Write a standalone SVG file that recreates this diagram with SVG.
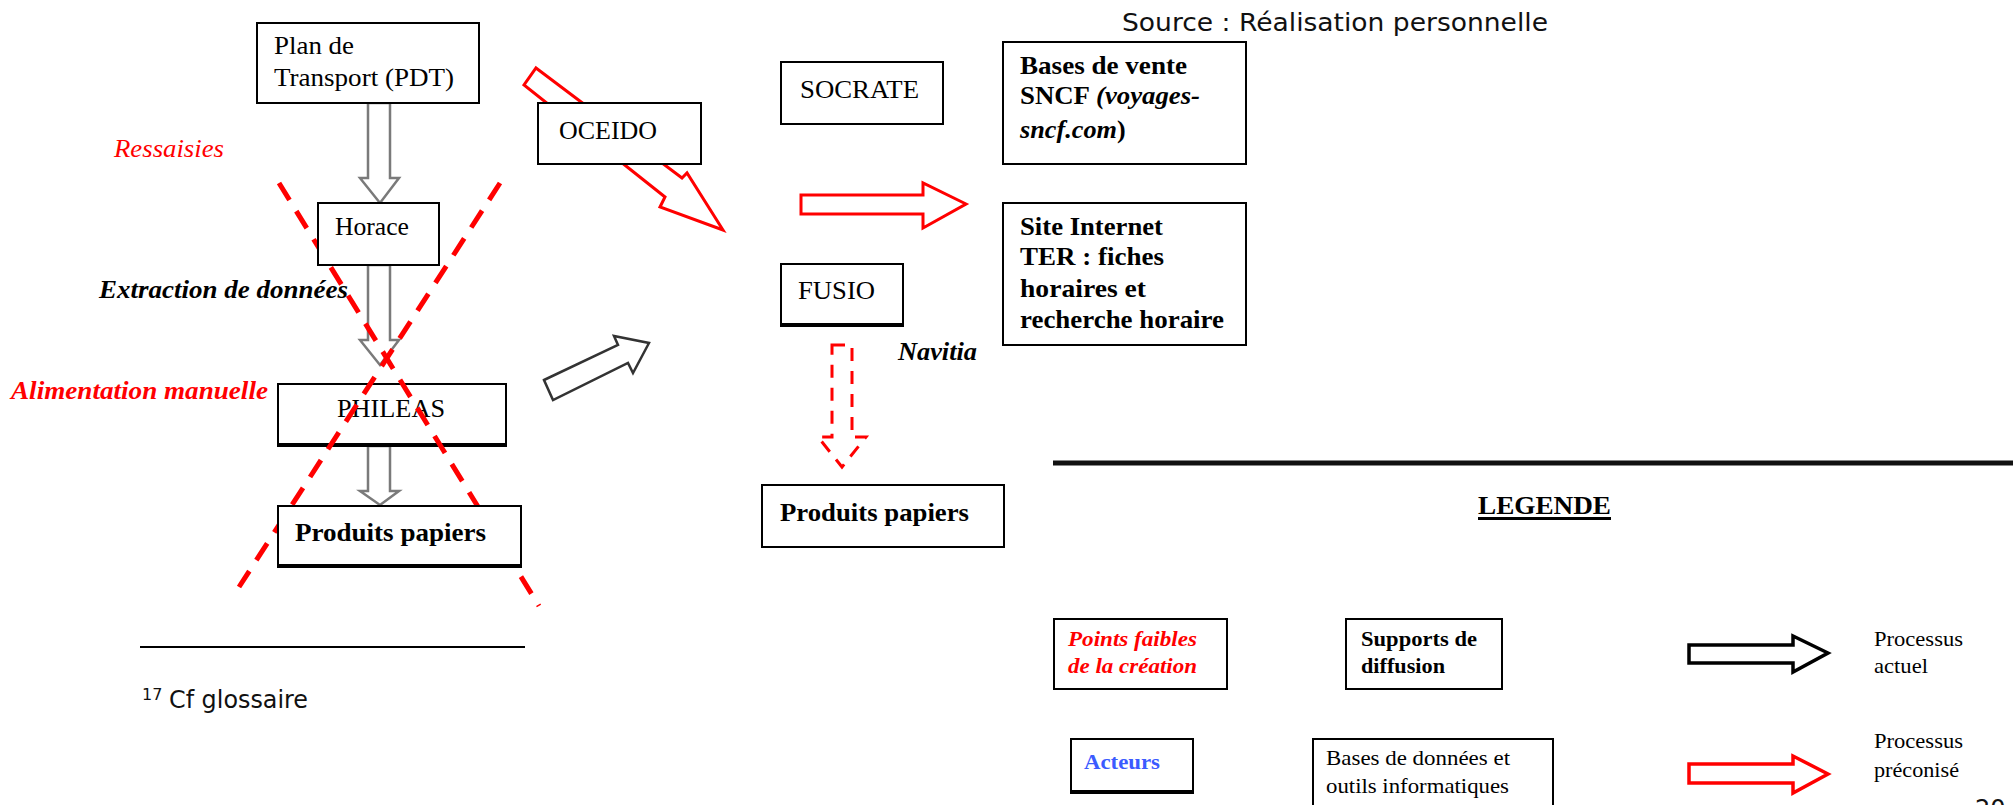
<svg xmlns="http://www.w3.org/2000/svg" width="2015" height="805" viewBox="0 0 2015 805">
<style>
.box{fill:#fff;stroke:#000;stroke-width:2}
.thick{stroke:#000;stroke-width:4}
.t{font-family:"Liberation Serif","Times New Roman",serif;font-size:26px;fill:#000}
.s{font-family:"Liberation Serif","Times New Roman",serif;font-size:22px;fill:#000}
.b{font-weight:bold}
.i{font-style:italic}
.red{fill:#ff0000}
.blue{fill:#3b5bff}
.sans{font-family:"DejaVu Sans",Verdana,sans-serif;fill:#111}
.xline{stroke:#ff0000;stroke-width:5;stroke-dasharray:20 13;fill:none}
.garrow{fill:#fff;stroke:#7a7a7a;stroke-width:2.5;stroke-linejoin:miter}
.karrow{fill:#fff;stroke:#333;stroke-width:2.5}
.rarrow{fill:#fff;stroke:#ff0000;stroke-width:3}
.rdash{fill:none;stroke:#ff0000;stroke-width:3;stroke-dasharray:13 10}
</style>

<g id="connectors">
  <polygon class="rarrow" points="536,68 682,178 687,173 723,230 660,207 665,197 524,85"/>
  <polygon class="garrow" points="368,103 390,103 390,178 399,178 380,203 360,178 368,178"/>
  <polygon class="garrow" points="368,265 390,265 390,340 399,340 380,365 360,340 368,340"/>
  <polygon class="garrow" points="368,446 390,446 390,491 399,491 380,505 360,491 368,491"/>
  <polygon class="karrow" points="544,380 618,345 614,336 649,343 633,373 628,363 553,400"/>
  <polygon class="rarrow" points="801,195 923,195 923,183 966,204 923,228 923,214 801,214"/>
  <polygon class="rdash" points="832,345 852,345 852,437 866,437 842,467 818,437 832,437"/>
</g>

<g id="node-pdt">
  <rect class="box" x="257" y="23" width="222" height="80"/>
  <text class="t" x="274" y="54" textLength="80" lengthAdjust="spacingAndGlyphs">Plan de</text>
  <text class="t" x="274" y="86" textLength="180" lengthAdjust="spacingAndGlyphs">Transport (PDT)</text>
</g>
<g id="node-phileas">
  <rect class="box" x="278" y="384" width="228" height="62"/>
  <line class="thick" x1="278" y1="445" x2="506" y2="445"/>
  <text class="t" x="337" y="417" textLength="108" lengthAdjust="spacingAndGlyphs">PHILEAS</text>
</g>

<g id="crossout">
  <line class="xline" x1="279" y1="183" x2="539" y2="606"/>
  <line class="xline" x1="500" y1="183" x2="239" y2="587"/>
</g>

<g id="node-horace">
  <rect class="box" x="318" y="203" width="121" height="62"/>
  <text class="t" x="335" y="235" textLength="74" lengthAdjust="spacingAndGlyphs">Horace</text>
</g>
<g id="node-produits1">
  <rect class="box" x="278" y="506" width="243" height="61"/>
  <line class="thick" x1="278" y1="566" x2="521" y2="566"/>
  <text class="t b" x="295" y="541" textLength="191" lengthAdjust="spacingAndGlyphs">Produits papiers</text>
</g>
<g id="node-oceido">
  <rect class="box" x="538" y="103" width="163" height="61"/>
  <text class="t" x="559" y="139" textLength="98" lengthAdjust="spacingAndGlyphs">OCEIDO</text>
</g>
<g id="node-socrate">
  <rect class="box" x="781" y="62" width="162" height="62"/>
  <text class="t" x="800" y="98" textLength="119" lengthAdjust="spacingAndGlyphs">SOCRATE</text>
</g>
<g id="node-fusio">
  <rect class="box" x="781" y="264" width="122" height="62"/>
  <line class="thick" x1="781" y1="325" x2="903" y2="325"/>
  <text class="t" x="798" y="299" textLength="77" lengthAdjust="spacingAndGlyphs">FUSIO</text>
</g>
<g id="node-bases-vente">
  <rect class="box" x="1003" y="42" width="243" height="122"/>
  <text class="t b" x="1020" y="74" textLength="167" lengthAdjust="spacingAndGlyphs">Bases de vente</text>
  <text class="t b" x="1020" y="104" textLength="70" lengthAdjust="spacingAndGlyphs">SNCF</text>
  <text class="t b i" x="1096" y="104" textLength="104" lengthAdjust="spacingAndGlyphs">(voyages-</text>
  <text class="t b i" x="1020" y="138" textLength="97" lengthAdjust="spacingAndGlyphs">sncf.com</text>
  <text class="t b" x="1117" y="138">)</text>
</g>
<g id="node-site-ter">
  <rect class="box" x="1003" y="203" width="243" height="142"/>
  <text class="t b" x="1020" y="235" textLength="143" lengthAdjust="spacingAndGlyphs">Site Internet</text>
  <text class="t b" x="1020" y="265" textLength="144" lengthAdjust="spacingAndGlyphs">TER : fiches</text>
  <text class="t b" x="1020" y="297" textLength="126" lengthAdjust="spacingAndGlyphs">horaires et</text>
  <text class="t b" x="1020" y="328" textLength="204" lengthAdjust="spacingAndGlyphs">recherche horaire</text>
</g>
<g id="node-produits2">
  <rect class="box" x="762" y="485" width="242" height="62"/>
  <text class="t b" x="780" y="521" textLength="189" lengthAdjust="spacingAndGlyphs">Produits papiers</text>
</g>

<g id="labels">
  <text class="t i red" x="114" y="157" textLength="110" lengthAdjust="spacingAndGlyphs">Ressaisies</text>
  <text class="t b i" x="99" y="298" textLength="249" lengthAdjust="spacingAndGlyphs">Extraction de données</text>
  <text class="t b i red" x="11" y="399" textLength="257" lengthAdjust="spacingAndGlyphs">Alimentation manuelle</text>
  <text class="t b i" x="898" y="360" textLength="79" lengthAdjust="spacingAndGlyphs">Navitia</text>
  <text class="sans" x="1122" y="31" font-size="25" textLength="426" lengthAdjust="spacingAndGlyphs">Source : Réalisation personnelle</text>
</g>

<g id="footnote">
  <line x1="140" y1="647" x2="525" y2="647" stroke="#000" stroke-width="2"/>
  <text class="sans" x="142" y="700" font-size="16">17</text>
  <text class="sans" x="169" y="708" font-size="24" textLength="139" lengthAdjust="spacingAndGlyphs">Cf glossaire</text>
  <text class="sans" x="1975" y="817" font-size="24">20</text>
</g>

<g id="legend">
  <line x1="1053" y1="463" x2="2013" y2="463" stroke="#111" stroke-width="5"/>
  <text class="t b" x="1478" y="514" textLength="133" lengthAdjust="spacingAndGlyphs">LEGENDE</text>
  <rect x="1478" y="517" width="133" height="3" fill="#000"/>
  <g id="legend-points-faibles">
    <rect class="box" x="1054" y="619" width="173" height="70"/>
    <text class="s b i red" x="1068" y="646" textLength="129" lengthAdjust="spacingAndGlyphs">Points faibles</text>
    <text class="s b i red" x="1068" y="673" textLength="129" lengthAdjust="spacingAndGlyphs">de la création</text>
  </g>
  <g id="legend-supports">
    <rect class="box" x="1346" y="619" width="156" height="70"/>
    <text class="s b" x="1361" y="646" textLength="116" lengthAdjust="spacingAndGlyphs">Supports de</text>
    <text class="s b" x="1361" y="673" textLength="84" lengthAdjust="spacingAndGlyphs">diffusion</text>
  </g>
  <g id="legend-actuel">
    <polygon fill="#fff" stroke="#000" stroke-width="3.5" points="1689,645 1793,645 1793,636 1828,653 1793,672 1793,663 1689,663"/>
    <text class="s" x="1874" y="646" textLength="89" lengthAdjust="spacingAndGlyphs">Processus</text>
    <text class="s" x="1874" y="673" textLength="54" lengthAdjust="spacingAndGlyphs">actuel</text>
  </g>
  <g id="legend-acteurs">
    <rect class="box" x="1071" y="739" width="122" height="54"/>
    <line class="thick" x1="1071" y1="792" x2="1193" y2="792"/>
    <text class="s b blue" x="1084" y="769" textLength="76" lengthAdjust="spacingAndGlyphs">Acteurs</text>
  </g>
  <g id="legend-bases">
    <rect class="box" x="1313" y="739" width="240" height="80"/>
    <text class="s" x="1326" y="765" textLength="184" lengthAdjust="spacingAndGlyphs">Bases de données et</text>
    <text class="s" x="1326" y="793" textLength="183" lengthAdjust="spacingAndGlyphs">outils informatiques</text>
  </g>
  <g id="legend-preconise">
    <polygon fill="#fff" stroke="#ff0000" stroke-width="3.5" points="1689,764 1793,764 1793,756 1828,774 1793,793 1793,783 1689,783"/>
    <text class="s" x="1874" y="748" textLength="89" lengthAdjust="spacingAndGlyphs">Processus</text>
    <text class="s" x="1874" y="777" textLength="85" lengthAdjust="spacingAndGlyphs">préconisé</text>
  </g>
</g>
</svg>
